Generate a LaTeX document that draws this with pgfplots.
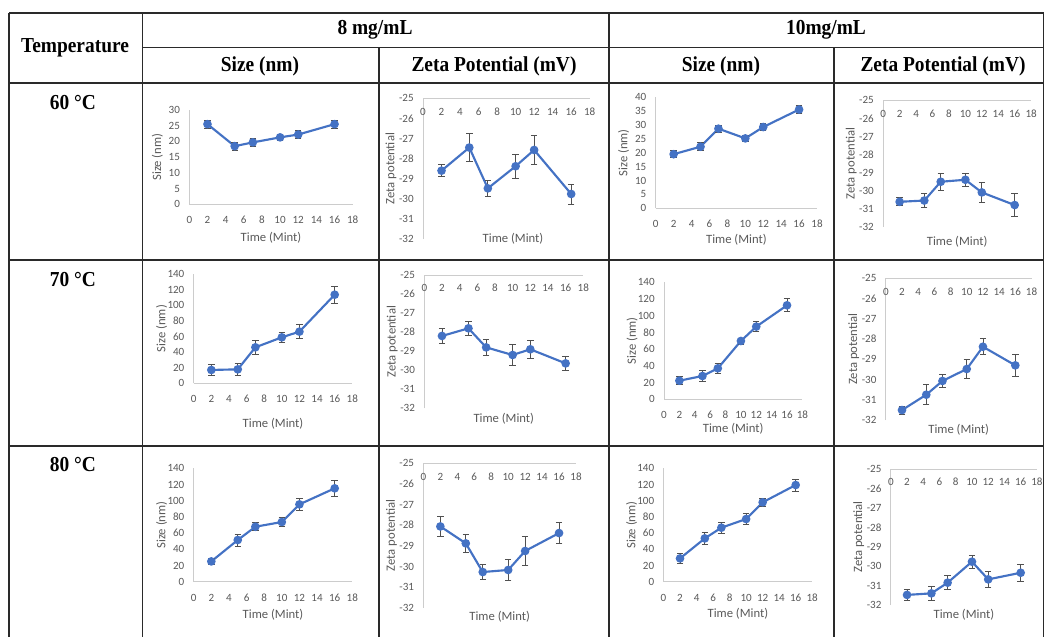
\documentclass[border=0pt]{standalone}
\usepackage{fontspec}
\setmainfont[FakeStretch=0.91]{Liberation Serif}
\newfontfamily\carlito[Numbers={Lining,Monospaced}]{Carlito}
\usepackage{pgfplots}
\usepackage{pgfplotstable}
\pgfplotsset{compat=1.18}
\definecolor{xblue}{HTML}{4472C4}
\definecolor{tickgray}{HTML}{595959}
\definecolor{axgray}{HTML}{CCCCCC}
\definecolor{errgray}{HTML}{505050}
\definecolor{tabline}{HTML}{2A2A2A}

\pgfplotstableread{
t v e
2 25.5 1.3
5 18.5 1.2
7 19.7 1.3
10 21.3 1.1
12 22.2 1.3
16 25.5 1.3
}\tabA
\pgfplotstableread{
t v e
2 -28.6 0.3
5 -27.45 0.69
7 -29.48 0.4
10 -28.38 0.6
12 -27.57 0.7
16 -29.76 0.5
}\tabB
\pgfplotstableread{
t v e
2 19.5 1.3
5 22.2 1.5
7 28.7 1.3
10 25.2 1.2
12 29.3 1.3
16 35.6 1.5
}\tabC
\pgfplotstableread{
t v e
2 -30.62 0.22
5 -30.55 0.37
7 -29.51 0.47
10 -29.4 0.36
12 -30.1 0.55
16 -30.8 0.65
}\tabD
\pgfplotstableread{
t v e
2 17.1 7
5 17.9 8
7 46.1 8.7
10 58.9 6
12 66.2 9.2
16 113.5 10.7
}\tabE
\pgfplotstableread{
t v e
2 -28.2 0.39
5 -27.8 0.35
7 -28.8 0.44
10 -29.2 0.55
12 -28.9 0.49
16 -29.64 0.37
}\tabF
\pgfplotstableread{
t v e
2 22.3 4.8
5 27.9 6.2
7 37.1 6.4
10 69.8 3.6
12 87 6.2
16 112.5 7.8
}\tabG
\pgfplotstableread{
t v e
2 -31.51 0.2
5 -30.75 0.5
7 -30.07 0.31
10 -29.48 0.46
12 -28.38 0.4
16 -29.3 0.55
}\tabH
\pgfplotstableread{
t v e
2 25.1 4.3
5 51.5 7.4
7 67.9 5.1
10 73.7 5.8
12 95.5 7
16 115.3 9.9
}\tabI
\pgfplotstableread{
t v e
2 -28.06 0.49
5 -28.88 0.43
7 -30.27 0.36
10 -30.17 0.5
12 -29.25 0.7
16 -28.38 0.5
}\tabJ
\pgfplotstableread{
t v e
2 28.8 5.8
5 53.5 7.8
7 66.7 6.8
10 77.4 7
12 98 5.4
16 119.4 7.4
}\tabK
\pgfplotstableread{
t v e
2 -31.48 0.27
5 -31.4 0.37
7 -30.85 0.37
10 -29.77 0.34
12 -30.68 0.4
16 -30.34 0.45
}\tabL

\pgfplotsset{
  excel/.style={scale only axis, xmin=0, xmax=18, xtick={0,2,...,18},
    major tick length=0pt, clip=false,
    tick label style={font=\carlito\fontsize{8.3}{9}\selectfont, text=tickgray},
    xticklabel style={text height=5.5pt, text depth=0pt},
    /pgf/number format/assume math mode=true,
    yticklabel style={xshift=-3.5pt}},
  noarrow/.style={axis line style={draw=axgray, line width=0.7pt, -},
    x axis line style={-}, y axis line style={-}},
  dataline/.style={color=xblue, line width=1.6pt, mark=*, mark size=2.4pt,
    error bars/.cd, y dir=both, y explicit,
    error bar style={line width=0.6pt, color=errgray, solid},
    error mark options={rotate=90, mark size=2.4pt, line width=0.6pt, color=errgray}}
}
\tikzset{lab/.style={font=\carlito\fontsize{9.5}{10}\selectfont, text=tickgray, anchor=center}}

\newcommand{\sizechart}[8]{%
\begin{axis}[excel, at={(#2pt,-#3pt)}, anchor=south west, width=#4pt, height=#5pt,
  ymin=0, ymax=#6, ytick distance=#7, axis lines=left, noarrow, xticklabel style={anchor=north, yshift=-5.5pt}]
\addplot[dataline] table[x=t,y=v,y error=e]{#1};
\node[lab] at (axis description cs:0.5,0) [yshift=-#8pt] {Time (Mint)};
\node[lab, xshift=-24pt, rotate=90] at (axis description cs:0,0.5) {Size (nm)};
\end{axis}}

\newcommand{\zetachart}[7]{%
\begin{axis}[excel, at={(#2pt,-#3pt)}, anchor=south west, width=#4pt, height=#5pt,
  ymin=-32, ymax=-25, ytick distance=1, axis x line=top, axis y line=left, noarrow,
  xticklabel style={anchor=north, yshift=-3.5pt}]
\addplot[dataline] table[x=t,y=v,y error=e]{#1};
\node[lab] at (axis description cs:#6,0) [yshift=-#7pt] {Time (Mint)};
\node[lab, xshift=-24pt, rotate=90] at (axis description cs:0,0.5) {Zeta potential};
\end{axis}}

\begin{document}
\begin{tikzpicture}[x=0.75pt,y=-0.75pt]
\useasboundingbox (0,0) rectangle (1045,637);
% table grid
\begin{scope}[draw=tabline, line width=1.2pt]
\draw (9,12.7) -- (1043.5,12.7);
\draw (142.5,47.3) -- (1043.5,47.3);
\draw (9,83) -- (1043.5,83);
\draw (9,260) -- (1043.5,260);
\draw (9,446) -- (1043.5,446);
\draw (9,12.7) -- (9,637);
\draw (142.5,12.7) -- (142.5,637);
\draw (379,47.3) -- (379,637);
\draw (609,12.7) -- (609,637);
\draw (834,47.3) -- (834,637);
\draw (1043.5,12.7) -- (1043.5,637);
\end{scope}
\begin{scope}[every node/.style={font=\fontsize{16}{18}\selectfont\bfseries, inner sep=0pt}]
\node at (75,48) {Temperature};
\node at (375,30) {8 mg/mL};
\node at (826,30) {10mg/mL};
\node at (260,66.5) {Size (nm)};
\node at (494,66.5) {Zeta Potential (mV)};
\node at (721,66.5) {Size (nm)};
\node at (943,66.5) {Zeta Potential (mV)};
\node at (73,103) {60 °C};
\node at (73,279) {70 °C};
\node at (73,464) {80 °C};
\end{scope}
% charts
\sizechart{\tabA}{141.98}{153.23}{122.55}{70.73}{30}{5}{25}
\zetachart{\tabB}{317.25}{179.25}{125.03}{105.53}{0.54}{0}
\sizechart{\tabC}{491.78}{156.23}{120.98}{83.25}{40}{5}{23.8}
\zetachart{\tabD}{662.4}{170.03}{110.93}{94.8}{0.5}{11}
\sizechart{\tabE}{145.28}{287.48}{118.95}{81.98}{140}{20}{30}
\zetachart{\tabF}{318.23}{306.23}{119.25}{99.98}{0.5}{7.5}
\sizechart{\tabG}{498}{299.48}{103.8}{87.75}{140}{20}{21.8}
\zetachart{\tabH}{664.35}{315}{109.28}{106.28}{0.5}{7.5}
\sizechart{\tabI}{145.28}{436.28}{118.95}{85.05}{140}{20}{25}
\zetachart{\tabJ}{317.55}{455.78}{114.45}{108.3}{0.5}{7}
\sizechart{\tabK}{497.63}{436.28}{111.53}{85.05}{140}{20}{23.7}
\zetachart{\tabL}{668.1}{453.75}{109.58}{102}{0.5}{7}
\end{tikzpicture}
\end{document}
